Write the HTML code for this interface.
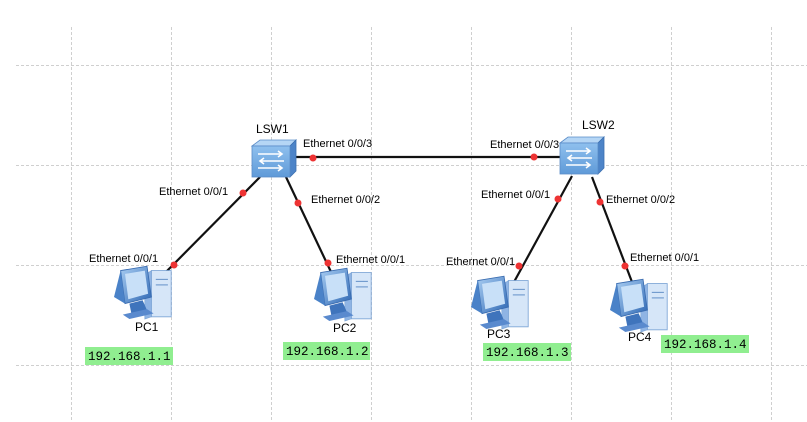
<!DOCTYPE html>
<html><head><meta charset="utf-8"><style>
html,body{margin:0;padding:0;background:#fff;}
svg{display:block;}
text{font-family:"Liberation Sans",Arial,sans-serif;font-size:11px;fill:#000;}
.ip{font-family:"Liberation Mono",monospace;font-size:12.5px;}
</style></head><body>
<svg width="807" height="422" viewBox="0 0 807 422" xmlns="http://www.w3.org/2000/svg">
<defs>
<linearGradient id="sf" x1="0" y1="0" x2="0" y2="1"><stop offset="0" stop-color="#8fc0ee"/><stop offset="1" stop-color="#5f9ad8"/></linearGradient>
<linearGradient id="mon" x1="0" y1="0" x2="1" y2="1"><stop offset="0" stop-color="#a8cdf2"/><stop offset="1" stop-color="#2f68b4"/></linearGradient>
<g id="sw">
<polygon points="0,6 8,0 44,0 38,6" fill="#b5d6f5" stroke="#5a8cc8" stroke-width="0.8"/>
<polygon points="38,6 44,0 44,31 38,37" fill="#4d84c8" stroke="#3c6fb0" stroke-width="0.8"/>
<rect x="0" y="6" width="38" height="31" fill="url(#sf)" stroke="#5a8cc8" stroke-width="0.8"/>
<g stroke="#fff" stroke-width="1.6" fill="none">
<path d="M6,14 H30 M26,11 L30,14 L26,17"/>
<path d="M32,21 H8 M12,18 L8,21 L12,24"/>
<path d="M6,28 H30 M26,25 L30,28 L26,31"/>
</g>
</g>
<g id="pc" transform="scale(1.1)">
<polygon points="34,6 52,6 52,48 34,48" fill="#d6e6f8" stroke="#7ea6d6" stroke-width="0.8"/>
<polygon points="28,10 34,6 34,48 28,50" fill="#8fb4e4" stroke="#7ea6d6" stroke-width="0.6"/>
<line x1="38" y1="14" x2="49" y2="14" stroke="#6e98cc"/><line x1="38" y1="19" x2="49" y2="19" stroke="#6e98cc"/>
<polygon points="6,6 30,2 34,30 10,36" fill="url(#mon)" stroke="#3a6cb0" stroke-width="0.8"/>
<polygon points="10,9 28,6 31,27 13,32" fill="#c8e0f8"/>
<polygon points="0,30 6,6 10,36" fill="#4a82c8"/>
<polygon points="14,36 26,33 30,42 16,46" fill="#3f74bc"/>
<polygon points="8,46 30,41 36,45 14,50" fill="#5a8ace"/>
</g>
</defs>
<g stroke="#cfcfcf" stroke-width="1" stroke-dasharray="3,2">
<line x1="16" y1="65.5" x2="807" y2="65.5"/>
<line x1="16" y1="165.5" x2="807" y2="165.5"/>
<line x1="16" y1="265.5" x2="807" y2="265.5"/>
<line x1="16" y1="365.5" x2="807" y2="365.5"/>
<line x1="71.5" y1="27" x2="71.5" y2="422"/>
<line x1="171.5" y1="27" x2="171.5" y2="422"/>
<line x1="271.5" y1="27" x2="271.5" y2="422"/>
<line x1="371.5" y1="27" x2="371.5" y2="422"/>
<line x1="471.5" y1="27" x2="471.5" y2="422"/>
<line x1="571.5" y1="27" x2="571.5" y2="422"/>
<line x1="671.5" y1="27" x2="671.5" y2="422"/>
<line x1="771.5" y1="27" x2="771.5" y2="422"/>
</g>
<g stroke="#111" stroke-width="2.2">
<line x1="294" y1="157" x2="560" y2="157"/>
<line x1="260" y1="177" x2="162" y2="276"/>
<line x1="286" y1="177" x2="332" y2="274"/>
<line x1="572" y1="176" x2="514" y2="282"/>
<line x1="592" y1="177" x2="632" y2="282"/>
</g>
<use href="#sw" x="252" y="140"/>
<use href="#sw" x="560" y="137"/>
<use href="#pc" x="114" y="264"/>
<use href="#pc" x="314" y="266"/>
<use href="#pc" x="471" y="274"/>
<use href="#pc" x="610" y="277"/>
<g fill="#ee3333">
<circle cx="313" cy="158" r="3.5"/><circle cx="534" cy="157" r="3.5"/>
<circle cx="243" cy="193" r="3.5"/><circle cx="174" cy="265" r="3.5"/>
<circle cx="298" cy="203" r="3.5"/><circle cx="328" cy="263" r="3.5"/>
<circle cx="558" cy="199" r="3.5"/><circle cx="519" cy="266" r="3.5"/>
<circle cx="600" cy="202" r="3.5"/><circle cx="625" cy="266" r="3.5"/>
</g>
<text x="256" y="133" style="font-size:12px">LSW1</text>
<text x="582" y="129" style="font-size:12px">LSW2</text>
<text x="303" y="147">Ethernet 0/0/3</text>
<text x="490" y="148">Ethernet 0/0/3</text>
<text x="159" y="195">Ethernet 0/0/1</text>
<text x="311" y="203">Ethernet 0/0/2</text>
<text x="89" y="262">Ethernet 0/0/1</text>
<text x="336" y="263">Ethernet 0/0/1</text>
<text x="481" y="198">Ethernet 0/0/1</text>
<text x="606" y="203">Ethernet 0/0/2</text>
<text x="446" y="265">Ethernet 0/0/1</text>
<text x="630" y="261">Ethernet 0/0/1</text>
<text x="135" y="331" style="font-size:12px">PC1</text>
<text x="333" y="332" style="font-size:12px">PC2</text>
<text x="487" y="338" style="font-size:12px">PC3</text>
<text x="628" y="341" style="font-size:12px">PC4</text>
<g fill="#90ee90">
<rect x="85" y="347" width="88" height="18"/>
<rect x="283" y="342" width="87" height="18"/>
<rect x="483" y="343" width="88" height="18"/>
<rect x="661" y="335" width="88" height="18"/>
</g>
<text class="ip" x="88" y="360">192.168.1.1</text>
<text class="ip" x="286" y="355">192.168.1.2</text>
<text class="ip" x="486" y="356">192.168.1.3</text>
<text class="ip" x="664" y="348">192.168.1.4</text>
</svg>
</body></html>
